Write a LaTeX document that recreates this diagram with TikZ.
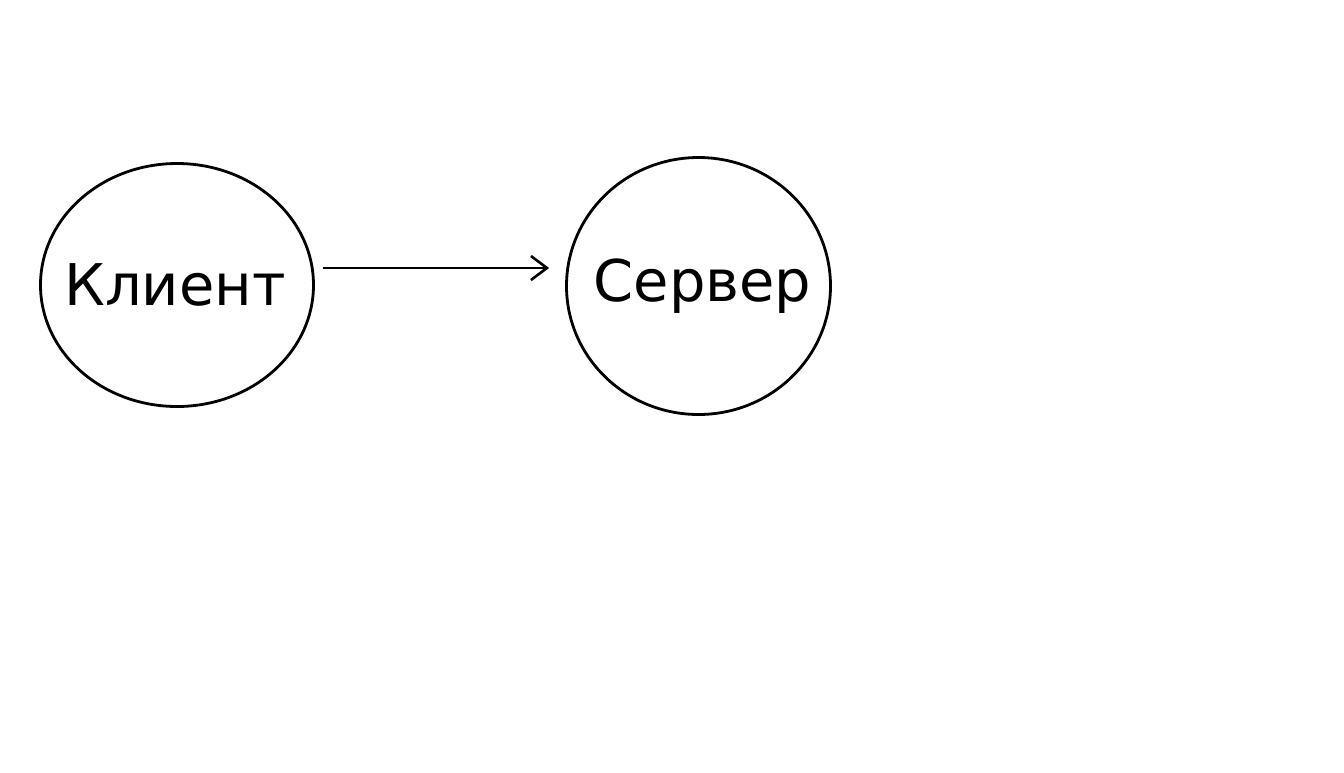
\documentclass[tikz,border=0pt]{standalone}
\usepackage{fontspec}
\setmainfont{DejaVu Sans}
\usetikzlibrary{shapes.geometric,arrows.meta}
\begin{document}
\begin{tikzpicture}[x=1pt,y=-1pt,
  bubble/.style={ellipse,draw,line width=2.8pt,inner sep=0pt,font=\fontsize{57.5}{60}\selectfont},
  arr/.style={line width=2.4pt,-{Straight Barb[length=16pt,width=24pt,line width=2.6pt]}}]
\useasboundingbox (0,0) rectangle (1344,772);
\node[bubble,minimum width=273pt,minimum height=243pt] (a) at (177,285) {\makebox[0pt]{\hspace*{-4pt}Клиент}};
\node[bubble,minimum width=264pt,minimum height=257pt] (b) at (698.5,286) {\makebox[0pt]{\hspace*{8pt}Сервер}};
\draw[arr,shorten <=8pt,shorten >=16pt] ([yshift=17pt]a.east) -- ([yshift=18pt]b.west);
\end{tikzpicture}
\end{document}
